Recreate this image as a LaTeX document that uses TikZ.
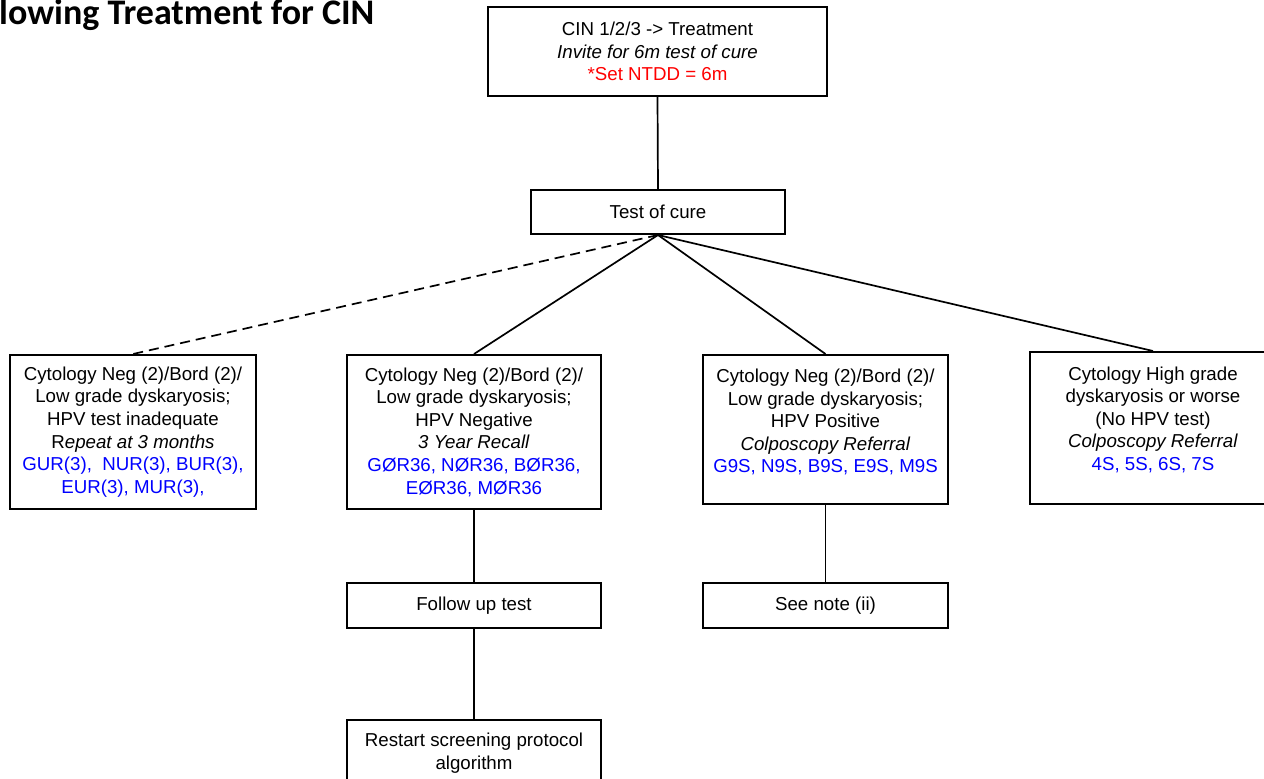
\documentclass[tikz,border=0pt]{standalone}
\usepackage{fontspec}
\setmainfont{Liberation Sans}
\newfontfamily\headfont{Carlito}
\definecolor{codeblue}{RGB}{0,0,255}
\definecolor{codered}{RGB}{255,0,0}
\tikzset{
    box/.style={draw=black, line width=2bp, align=center, inner sep=0,
        font=\fontsize{18.7bp}{22.6bp}\selectfont},
    link/.style={draw=black, line width=1.7bp},
    dashlink/.style={link, dash pattern=on 10bp off 6bp},
    heading/.style={font=\headfont\bfseries\fontsize{36bp}{42bp}\selectfont, inner sep=0}
}

\begin{document}
\begin{tikzpicture}[x=1bp, y=-1bp]
    \useasboundingbox (0,0) rectangle (1264,779);
    \node[heading, anchor=base west] (title) at (-1,24.5) {lowing Treatment for CIN};
    \node[box, minimum width=339bp, minimum height=89bp] (cin) at (657.5,51.5)
        {CIN 1/2/3 -> Treatment\\ \textit{Invite for 6m test of cure}\\ {\color{codered}*Set NTDD = 6m}};
    \node[box, minimum width=254bp, minimum height=44bp] (cure) at (658,212) {Test of cure};
    \node[box, minimum width=246bp, minimum height=154bp] (inad) at (133,432)
        {Cytology Neg (2)/Bord (2)/\\ Low grade dyskaryosis;\\ HPV test inadequate\\
         R\textit{epeat at 3 months}\\ {\color{codeblue}GUR(3),\ \ NUR(3), BUR(3),}\\ {\color{codeblue}EUR(3), MUR(3),}};
    \node[box, minimum width=254bp, minimum height=154bp] (neg) at (474,432)
        {Cytology Neg (2)/Bord (2)/\\ Low grade dyskaryosis;\\ HPV Negative\\
         \textit{3 Year Recall}\\ {\color{codeblue}GØR36, NØR36, BØR36,}\\ {\color{codeblue}EØR36, MØR36}};
    \node[box, minimum width=245bp, minimum height=149bp, text depth=17bp] (pos) at (825.5,429.5)
        {Cytology Neg (2)/Bord (2)/\\ Low grade dyskaryosis;\\ HPV Positive\\
         \textit{Colposcopy Referral}\\ {\color{codeblue}G9S, N9S, B9S, E9S, M9S}};
    \node[box, minimum width=246bp, minimum height=152bp, text depth=19bp] (high) at (1153,428)
        {Cytology High grade\\ dyskaryosis or worse\\ (No HPV test)\\
         \textit{Colposcopy Referral}\\ {\color{codeblue}4S, 5S, 6S, 7S}};
    \node[box, minimum width=254bp, minimum height=45bp] (follow) at (474,605.5) {Follow up test};
    \node[box, minimum width=245bp, minimum height=45bp] (note) at (825.5,605.5) {See note (ii)};
    \node[box, minimum width=254bp, minimum height=66bp] (restart) at (474,753)
        {Restart screening protocol\\ algorithm};

    \draw[link] (cin.south) -- (cure.north);
    \draw[dashlink] (cure.south) -- (inad.north);
    \draw[link] (cure.south) -- (neg.north);
    \draw[link] (cure.south) -- (pos.north);
    \draw[link] (cure.south) -- (high.north);
    \draw[link] (neg.south) -- (follow.north);
    \draw[link] (follow.south) -- (restart.north);
    \draw[link] (pos.south) -- (note.north);
\end{tikzpicture}
\end{document}
